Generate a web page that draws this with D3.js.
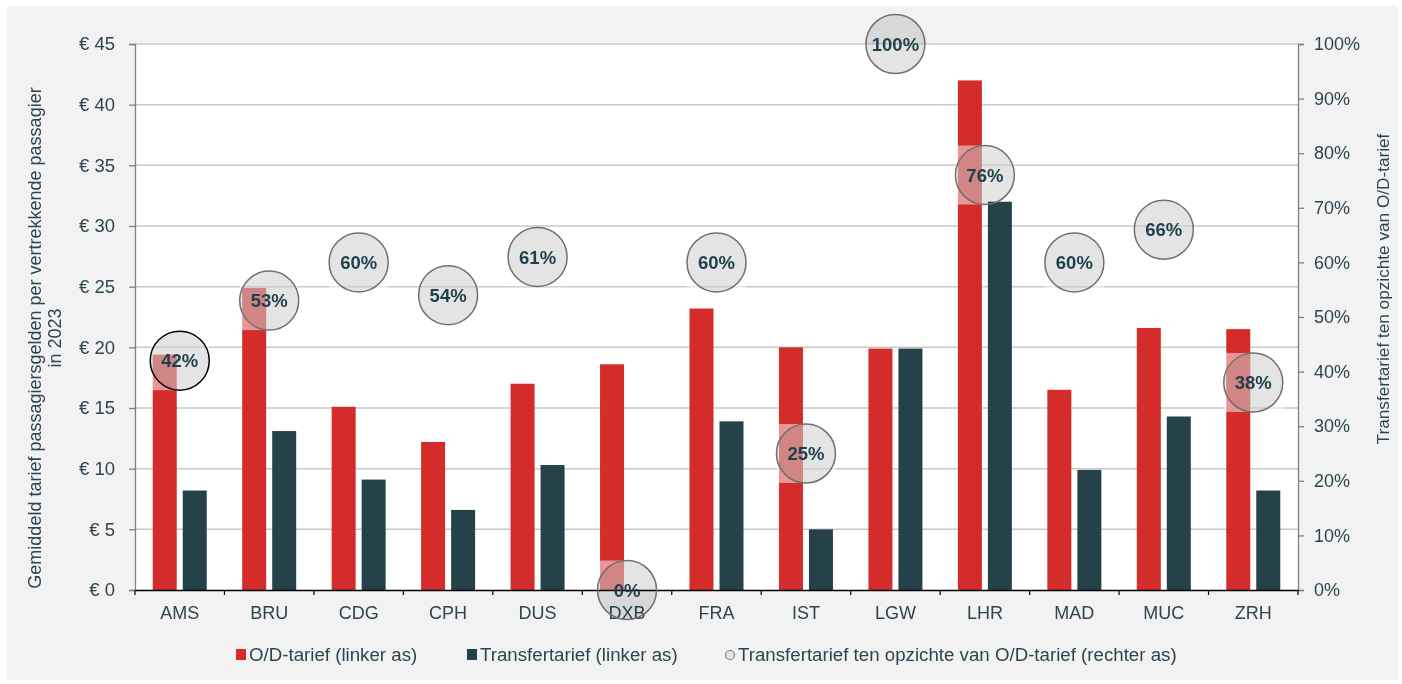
<!DOCTYPE html>
<html><head><meta charset="utf-8">
<script src="https://cdn.jsdelivr.net/npm/d3@7"></script>
<style>
html,body{margin:0;padding:0;background:#fff;}
svg{display:block;font-family:"Liberation Sans",Arial,sans-serif;}
</style></head>
<body>
<svg id="chart" width="1402" height="684"></svg>
<script>
const categories = ["AMS","BRU","CDG","CPH","DUS","DXB","FRA","IST","LGW","LHR","MAD","MUC","ZRH"];
const odTarief = [19.4, 24.9, 15.1, 12.2, 17.0, 18.6, 23.2, 20.0, 19.9, 42.0, 16.5, 21.6, 21.5];
const transferTarief = [8.2, 13.1, 9.1, 6.6, 10.3, 0, 13.9, 5.0, 19.9, 32.0, 9.9, 14.3, 8.2];
const ratioPct = [42, 53, 60, 54, 61, 0, 60, 25, 100, 76, 60, 66, 38];
const leftTicks = [0,5,10,15,20,25,30,35,40,45];
const rightTicks = [0,10,20,30,40,50,60,70,80,90,100];
const seriesNames = ["O/D-tarief (linker as)","Transfertarief (linker as)","Transfertarief ten opzichte van O/D-tarief (rechter as)"];
const leftTitle = ["Gemiddeld tarief passagiersgelden per vertrekkende passagier","in 2023"];
const rightTitle = "Transfertarief ten opzichte van O/D-tarief";

const RED = "#d42b2b", DARK = "#25424a", TXT = "#2d4550";
const svg = d3.select("#chart");
const M = {l:135, r:1298, t:44, b:590};
const FF = "Liberation Sans, Arial";

svg.append("rect").attr("x",7).attr("y",6).attr("width",1391).attr("height",674).attr("fill","#f2f2f2");
svg.append("rect").attr("x",M.l).attr("y",M.t).attr("width",M.r-M.l).attr("height",M.b-M.t).attr("fill","#fff");

const x = d3.scaleBand().domain(categories).range([M.l, M.r]).padding(0);
const y = d3.scaleLinear().domain([0,45]).range([M.b, M.t]);
const y2 = d3.scaleLinear().domain([0,100]).range([M.b, M.t]);
const R = 29.5;
const cxOf = d => x(d)+x.bandwidth()/2;

// gridlines
svg.append("g").selectAll("line").data(leftTicks.filter(d=>d>0)).join("line")
  .attr("x1",M.l).attr("x2",M.r).attr("y1",d=>y(d)).attr("y2",d=>y(d))
  .attr("stroke","#c8c8c8").attr("stroke-width",1.5);

// O/D bars
const bw = 24, gap = 3;
svg.append("g").selectAll("rect").data(categories).join("rect")
  .attr("x",d=>cxOf(d)-gap-bw).attr("width",bw)
  .attr("y",(d,i)=>y(odTarief[i])).attr("height",(d,i)=>y(0)-y(odTarief[i])).attr("fill",RED);

// translucent square behind each bubble (restricted to the plot area)
svg.append("g").selectAll("rect").data(categories).join("rect")
  .each(function(d,i){
    const cx = cxOf(d), cy = y2(ratioPct[i]);
    const x0 = Math.max(cx-R, M.l), x1 = Math.min(cx+R, M.r);
    const y0 = Math.max(cy-R, M.t), y1 = Math.min(cy+R, M.b);
    d3.select(this).attr("x",x0).attr("y",y0).attr("width",Math.max(0,x1-x0)).attr("height",Math.max(0,y1-y0));
  })
  .attr("fill","#fff").attr("opacity",0.5);

// transfer bars
svg.append("g").selectAll("rect").data(categories).join("rect")
  .attr("x",d=>cxOf(d)+gap).attr("width",bw)
  .attr("y",(d,i)=>y(transferTarief[i])).attr("height",(d,i)=>y(0)-y(transferTarief[i])).attr("fill",DARK);

// left axis
const ga = svg.append("g").attr("transform",`translate(${M.l},0)`)
  .call(d3.axisLeft(y).tickValues(leftTicks).tickFormat(d=>"€ "+d).tickSize(6).tickPadding(14));
ga.select(".domain").attr("stroke","#808080").attr("stroke-width",1.3);
ga.selectAll(".tick line").attr("stroke","#808080").attr("stroke-width",1.3);
ga.selectAll(".tick text").attr("font-size",18.5).attr("fill",TXT).attr("font-family",FF);

// right axis
const gr = svg.append("g").attr("transform",`translate(${M.r},0)`)
  .call(d3.axisRight(y2).tickValues(rightTicks).tickFormat(d=>d+"%").tickSize(6).tickPadding(10));
gr.select(".domain").attr("stroke","#808080").attr("stroke-width",1.3);
gr.selectAll(".tick line").attr("stroke","#808080").attr("stroke-width",1.3);
gr.selectAll(".tick text").attr("font-size",18).attr("fill",TXT).attr("font-family",FF);

// bottom axis
const gb = svg.append("g").attr("transform",`translate(0,${M.b})`)
  .call(d3.axisBottom(x).tickSize(0).tickPadding(16));
gb.select(".domain").attr("stroke","#000").attr("stroke-width",1.3);
gb.selectAll(".tick text").attr("font-size",18).attr("fill",TXT).attr("font-family",FF);
gb.append("g").selectAll("line").data(categories).join("line")
  .attr("x1",d=>x(d)).attr("x2",d=>x(d)).attr("y1",0).attr("y2",5)
  .attr("stroke","#000").attr("stroke-width",1.2);
gb.append("line").attr("x1",M.r).attr("x2",M.r).attr("y1",0).attr("y2",5).attr("stroke","#000").attr("stroke-width",1.2);

// bubbles
const bub = svg.append("g").selectAll("g").data(categories).join("g")
  .attr("transform",(d,i)=>`translate(${cxOf(d)},${y2(ratioPct[i])})`);
bub.append("circle").attr("r",R).attr("fill","#e4e4e4").style("mix-blend-mode","multiply");
bub.append("circle").attr("r",R).attr("fill","none")
  .attr("stroke",(d,i)=>i===0?"#000":"#707070").attr("stroke-width",1.5);
bub.append("text").attr("text-anchor","middle").attr("dy","0.36em")
  .attr("font-size",18.5).attr("font-weight","bold").attr("fill","#1f3f4a")
  .text((d,i)=>ratioPct[i]+"%");

// axis titles
const lt = svg.append("text").attr("transform",`translate(41,338) rotate(-90)`)
  .attr("text-anchor","middle").attr("font-size",18).attr("fill",TXT);
lt.append("tspan").attr("x",0).attr("dy",0).text(leftTitle[0]);
lt.append("tspan").attr("x",0).attr("dy",20).text(leftTitle[1]);
svg.append("text").attr("transform",`translate(1389,289) rotate(-90)`)
  .attr("text-anchor","middle").attr("font-size",17.2).attr("fill",TXT).text(rightTitle);

// legend
const leg = svg.append("g");
const items = [{x:236, t:0},{x:467, t:1},{x:725, t:2}];
items.forEach(it=>{
  if(it.t<2){
    leg.append("rect").attr("x",it.x).attr("y",649).attr("width",10).attr("height",11).attr("fill",it.t===0?RED:DARK);
  } else {
    leg.append("circle").attr("cx",it.x+5).attr("cy",655).attr("r",4.5).attr("fill","#e4e4e4").attr("stroke","#808080").attr("stroke-width",1.2);
  }
  leg.append("text").attr("x",it.x+13).attr("y",661).attr("font-size",18.7).attr("fill",TXT).text(seriesNames[it.t]);
});
</script>
</body></html>
